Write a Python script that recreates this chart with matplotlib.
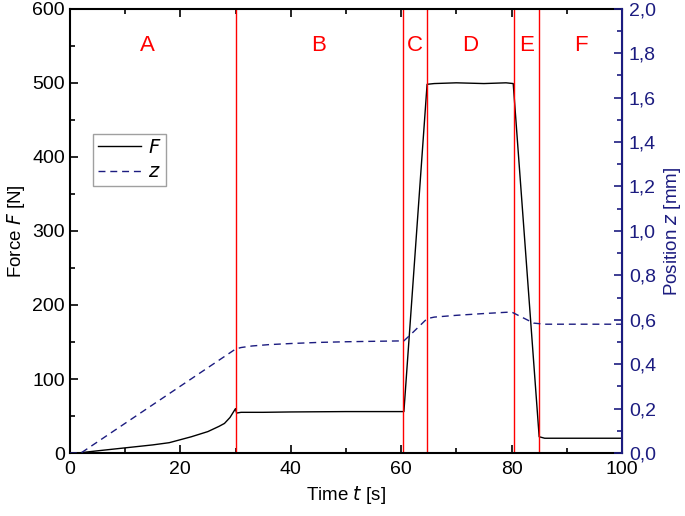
import matplotlib.pyplot as plt
from matplotlib.ticker import MultipleLocator, FuncFormatter

plt.rcParams['font.family'] = ['Liberation Sans', 'DejaVu Sans']

# Force F [N] over time t [s]
t_force = [0, 2, 5, 10, 15, 18, 20, 22, 25, 27, 28, 29, 30, 30.2, 31, 35, 40, 50, 60, 60.5,
           64.7, 66, 70, 75, 79, 80.3, 85, 86, 90, 95, 100]
force = [0, 0.5, 3, 7, 11, 14, 18, 22, 29, 36, 40, 48, 60, 54, 55, 55, 55.5, 56, 56, 56,
         498, 499, 500, 499, 500, 499, 22, 20, 20, 20, 20]

# Position z [mm] over time t [s]
t_pos = [0, 2, 30, 31, 33, 36, 40, 45, 50, 55, 60.5, 62, 64.7, 66, 70, 75, 80, 82, 84,
         86, 90, 100]
pos = [0, 0, 0.468, 0.475, 0.482, 0.488, 0.493, 0.498, 0.501, 0.503, 0.505, 0.54, 0.605,
       0.612, 0.62, 0.628, 0.635, 0.61, 0.585, 0.58, 0.58, 0.58]

# Phase boundaries and labels
phase_bounds = [30, 60.3, 64.7, 80.5, 85]
phase_names = ["A", "B", "C", "D", "E", "F"]
phase_centres = [14, 45, 62.5, 72.5, 82.8, 92.5]

navy = "#1c1c80"

fig = plt.figure(figsize=(6.85, 5.16), dpi=100)
ax = fig.add_axes([0.102, 0.122, 0.806, 0.861])
ax2 = ax.twinx()

lf, = ax.plot(t_force, force, color="black", lw=1.0, label="$F$")
lz, = ax2.plot(t_pos, pos, color=navy, lw=1.0, ls=(0, (5, 3.5)), label="$z$")

for b in phase_bounds:
    ax.axvline(b, color="red", lw=1.0)
for name, xc in zip(phase_names, phase_centres):
    ax.text(xc, 551, name, color="red", fontsize=16, ha="center", va="center")

ax.set_xlim(0, 100)
ax.set_ylim(0, 600)
ax2.set_ylim(0, 2.0)

ax.xaxis.set_major_locator(MultipleLocator(20))
ax.xaxis.set_minor_locator(MultipleLocator(10))
ax.yaxis.set_major_locator(MultipleLocator(100))
ax.yaxis.set_minor_locator(MultipleLocator(50))
ax2.yaxis.set_major_locator(MultipleLocator(0.2))
ax2.yaxis.set_minor_locator(MultipleLocator(0.1))
ax2.yaxis.set_major_formatter(FuncFormatter(lambda v, p: f"{v:.1f}".replace(".", ",")))

ax.tick_params(which="both", direction="in", top=True, right=False, labelsize=14, width=1.2)
ax.tick_params(which="major", length=6)
ax.tick_params(which="minor", length=3.5)
ax.tick_params(axis="x", pad=6)
ax2.tick_params(which="both", direction="in", colors=navy, labelsize=14, width=1.2)
ax2.tick_params(which="major", length=6, pad=5)
ax2.tick_params(which="minor", length=3.5)

for s in ["left", "bottom", "top"]:
    ax.spines[s].set_linewidth(1.5)
ax2.spines["right"].set_color(navy)
ax2.spines["right"].set_linewidth(1.5)
ax2.spines["left"].set_visible(False)
ax2.spines["top"].set_visible(False)
ax2.spines["bottom"].set_visible(False)

ax.set_xlabel("Time $t$ [s]", fontsize=13.5)
ax.set_ylabel("Force $F$ [N]", fontsize=13.5)
ax2.set_ylabel("Position $z$ [mm]", fontsize=13.5, color=navy)

leg = ax.legend(handles=[lf, lz], loc="upper left", bbox_to_anchor=(0.042, 0.718),
                fontsize=14, frameon=True, fancybox=False, edgecolor="#888888",
                handlelength=2.2, borderpad=0.25, labelspacing=0.35, handletextpad=0.35,
                borderaxespad=0)
leg.get_frame().set_linewidth(1.0)

fig.savefig("out.png", dpi=100)
